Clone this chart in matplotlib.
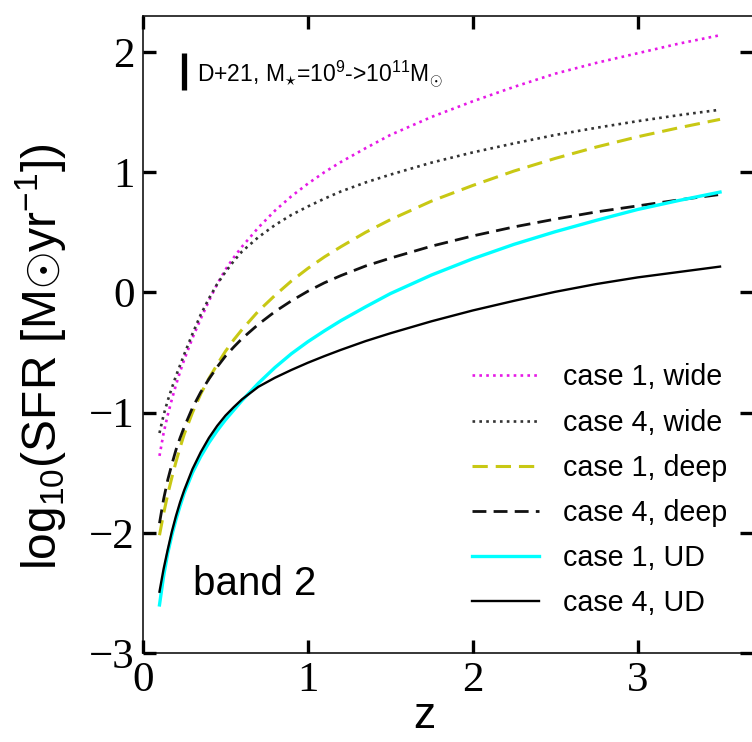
import matplotlib
matplotlib.use("Agg")
import matplotlib.pyplot as plt

# ---------------- data ----------------
z = [0.1, 0.125, 0.15, 0.175, 0.2, 0.225, 0.25, 0.3, 0.35, 0.4, 0.45, 0.5, 0.55,
     0.6, 0.7, 0.8, 0.9, 1.0, 1.1, 1.2, 1.35, 1.5, 1.75, 2.0, 2.25, 2.5, 2.75,
     3.0, 3.25, 3.5]

case1_wide = [-1.36, -1.17, -1.02, -0.89, -0.77, -0.66, -0.56, -0.38, -0.22, -0.07,
              0.07, 0.19, 0.29, 0.38, 0.54, 0.68, 0.80, 0.905, 1.00, 1.085, 1.20,
              1.31, 1.46, 1.59, 1.71, 1.82, 1.91, 1.99, 2.07, 2.14]
case4_wide = [-1.17, -1.02, -0.90, -0.795, -0.695, -0.605, -0.515, -0.345, -0.185,
              -0.05, 0.07, 0.17, 0.26, 0.34, 0.46, 0.56, 0.645, 0.715, 0.78, 0.84,
              0.915, 0.98, 1.08, 1.165, 1.24, 1.31, 1.37, 1.425, 1.475, 1.52]
case1_deep = [-2.02, -1.84, -1.68, -1.54, -1.41, -1.29, -1.18, -1.00, -0.845, -0.715,
              -0.60, -0.49, -0.395, -0.31, -0.155, -0.025, 0.095, 0.20, 0.295, 0.38,
              0.50, 0.605, 0.76, 0.89, 1.01, 1.115, 1.21, 1.295, 1.37, 1.44]
case4_deep = [-1.92, -1.72, -1.56, -1.43, -1.31, -1.21, -1.12, -0.96, -0.83, -0.72,
              -0.62, -0.53, -0.455, -0.385, -0.265, -0.16, -0.07, 0.01, 0.08, 0.14,
              0.22, 0.285, 0.385, 0.47, 0.545, 0.61, 0.67, 0.72, 0.77, 0.815]
case1_UD = [-2.60, -2.36, -2.17, -2.02, -1.89, -1.775, -1.67, -1.50, -1.365, -1.25,
            -1.15, -1.06, -0.98, -0.90, -0.755, -0.625, -0.51, -0.41, -0.32, -0.235,
            -0.12, -0.01, 0.145, 0.28, 0.40, 0.505, 0.60, 0.69, 0.765, 0.835]
case4_UD = [-2.49, -2.30, -2.14, -1.99, -1.86, -1.745, -1.645, -1.47, -1.33, -1.21,
            -1.11, -1.025, -0.955, -0.89, -0.785, -0.71, -0.645, -0.585, -0.53,
            -0.478, -0.405, -0.34, -0.24, -0.15, -0.07, 0.005, 0.07, 0.125, 0.17,
            0.215]

labels = ["case 1, wide", "case 4, wide", "case 1, deep",
          "case 4, deep", "case 1, UD", "case 4, UD"]
xticks = [0, 1, 2, 3]
yticks = [-3, -2, -1, 0, 1, 2]

# ---------------- fonts ----------------
sans = ["Liberation Sans", "DejaVu Sans"]
plt.rcParams["mathtext.fontset"] = "custom"
plt.rcParams["mathtext.rm"] = "Liberation Sans"
plt.rcParams["mathtext.it"] = "Liberation Sans:italic"
plt.rcParams["mathtext.bf"] = "Liberation Sans:bold"

fig = plt.figure(figsize=(7.52, 7.42), dpi=100)
ax = fig.add_axes([143 / 752, 89 / 742, 610 / 752, 637 / 742])

styles = [
    dict(color="#e619e6", lw=1.9, linestyle=(0, (1, 1.6))),
    dict(color="#333333", lw=1.9, linestyle=(0, (1, 1.6))),
    dict(color="#c8c814", lw=2.2, linestyle=(0, (5, 2.6))),
    dict(color="#111111", lw=2.0, linestyle=(0, (5, 2.6))),
    dict(color="#00ffff", lw=2.4, linestyle="-"),
    dict(color="black", lw=1.7, linestyle="-"),
]
series = [case1_wide, case4_wide, case1_deep, case4_deep, case1_UD, case4_UD]
for y, lab, st in zip(series, labels, styles):
    ax.plot(z, y, label=lab, **st)

ax.set_xlim(0, 3.7)
ax.set_ylim(-3, 2.3)
ax.set_xticks(xticks)
ax.set_yticks(yticks)
ax.tick_params(which="both", direction="in", length=9.5, width=2.4,
               top=True, right=True, labelsize=31, pad=6)
for t in ax.get_xticklabels() + ax.get_yticklabels():
    t.set_fontfamily("Liberation Serif")
for s in ax.spines.values():
    s.set_linewidth(1.1)

ax.set_xlabel("z", fontsize=32, family=sans)
ax.xaxis.set_label_coords(0.462, -0.067)
ax.set_ylabel(r"log$_{10}$(SFR [M$\odot$yr$^{-1}$])", fontsize=34.5, family=sans)
ax.yaxis.set_label_coords(-0.122, 0.465)

leg = ax.legend(loc="lower left", bbox_to_anchor=(0.539, 0.056), frameon=False,
                prop={"family": sans, "size": 20.6}, handlelength=2.35,
                handletextpad=0.85, labelspacing=0.6, borderpad=0,
                borderaxespad=0)

ax.text(0.082, 0.091, "band 2", transform=ax.transAxes, fontsize=29,
        family=sans, va="baseline", ha="left")
ax.text(0.088, 0.896, r"D+21, M$_{\star}$=10$^{9}$->10$^{11}$M$_{\odot}$",
        transform=ax.transAxes, fontsize=16.5, family=sans,
        va="baseline", ha="left")
ax.plot([0.068, 0.068], [0.884, 0.942], transform=ax.transAxes, color="black",
        lw=3.8, solid_capstyle="butt")

fig.savefig("out.png", dpi=100)
